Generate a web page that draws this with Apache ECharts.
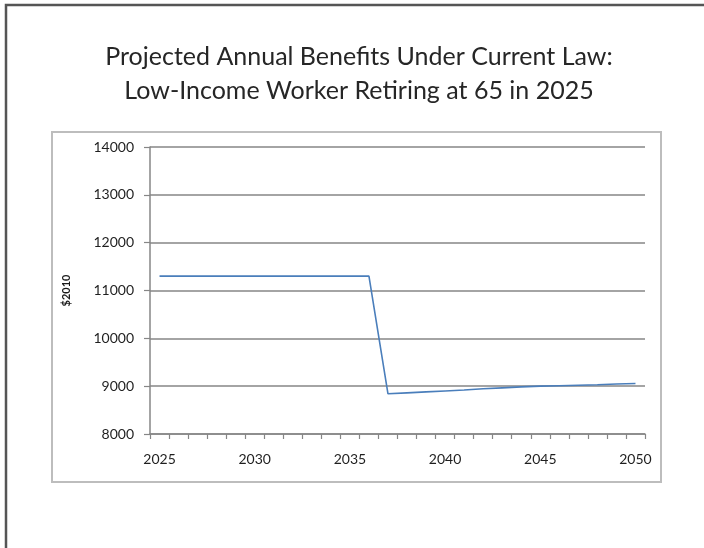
<!DOCTYPE html>
<html>
<head>
<meta charset="utf-8">
<script src="https://cdn.jsdelivr.net/npm/echarts@6/dist/echarts.min.js"></script>
<style>
  html, body { margin: 0; padding: 0; background: #fff; }
  #chart { width: 704px; height: 548px; }
</style>
</head>
<body>
<div id="chart"></div>
<script>
// Years of the projection (one category per year)
const years = ['2025','2026','2027','2028','2029','2030','2031','2032','2033','2034',
               '2035','2036','2037','2038','2039','2040','2041','2042','2043','2044',
               '2045','2046','2047','2048','2049','2050'];
// Annual benefit, constant 2010 dollars
const benefits = [11300,11300,11300,11300,11300,11300,11300,11300,11300,11300,
                  11300,11300,8840,8860,8880,8900,8920,8945,8965,8985,
                  9000,9010,9020,9030,9045,9055];
const titleLines = ['Projected Annual Benefits Under Current Law:',
                    'Low-Income Worker Retiring at 65 in 2025'];
const yTicks = { min: 8000, max: 14000, step: 1000 };
const yName = '$2010';
const labelYears = ['2025','2030','2035','2040','2045','2050'];

const chart = echarts.init(document.getElementById('chart'));
chart.setOption({
  animation: false,
  backgroundColor: '#ffffff',
  title: {
    text: titleLines.join('\n'),
    left: 354,
    top: 35,
    textAlign: 'center',
    textStyle: {
      fontFamily: 'Lato',
      fontWeight: 'normal',
      fontSize: 25,
      lineHeight: 34,
      color: '#262626'
    }
  },
  graphic: [
    { type: 'rect', shape: { x: 6, y: 5, width: 720, height: 560 },
      style: { fill: 'none', stroke: '#555555', lineWidth: 2.5 }, silent: true },
    { type: 'rect', shape: { x: 52, y: 132, width: 609, height: 350 },
      style: { fill: 'none', stroke: '#bdbdbd', lineWidth: 2 }, silent: true }
  ],
  grid: { left: 150, right: 59, top: 147, bottom: 114, containLabel: false },
  xAxis: {
    type: 'category',
    data: years,
    boundaryGap: true,
    axisLine: { lineStyle: { color: '#868686', width: 1.5 } },
    axisTick: { show: true, interval: 0, length: 5, lineStyle: { color: '#868686', width: 1.2 } },
    axisLabel: {
      interval: (i, v) => labelYears.includes(v),
      margin: 18,
      fontFamily: 'Lato',
      fontSize: 14,
      color: '#1f1f1f'
    },
    splitLine: { show: false }
  },
  yAxis: {
    type: 'value',
    min: yTicks.min,
    max: yTicks.max,
    interval: yTicks.step,
    name: yName,
    nameLocation: 'middle',
    nameGap: 78,
    nameTextStyle: { fontFamily: 'Lato', fontWeight: 'bold', fontSize: 11, color: '#1a1a1a' },
    axisLine: { show: true, lineStyle: { color: '#868686', width: 1.5 } },
    axisTick: { show: true, length: 6, lineStyle: { color: '#868686', width: 1.2 } },
    axisLabel: {
      margin: 16,
      formatter: v => String(v),
      fontFamily: 'Lato',
      fontSize: 14,
      color: '#1f1f1f'
    },
    splitLine: { show: true, lineStyle: { color: '#868686', width: 1.5 } }
  },
  series: [{
    type: 'line',
    data: benefits,
    showSymbol: false,
    symbol: 'none',
    lineStyle: { color: '#4a7ebb', width: 1.6 },
    itemStyle: { color: '#4a7ebb' }
  }]
});
</script>
</body>
</html>
